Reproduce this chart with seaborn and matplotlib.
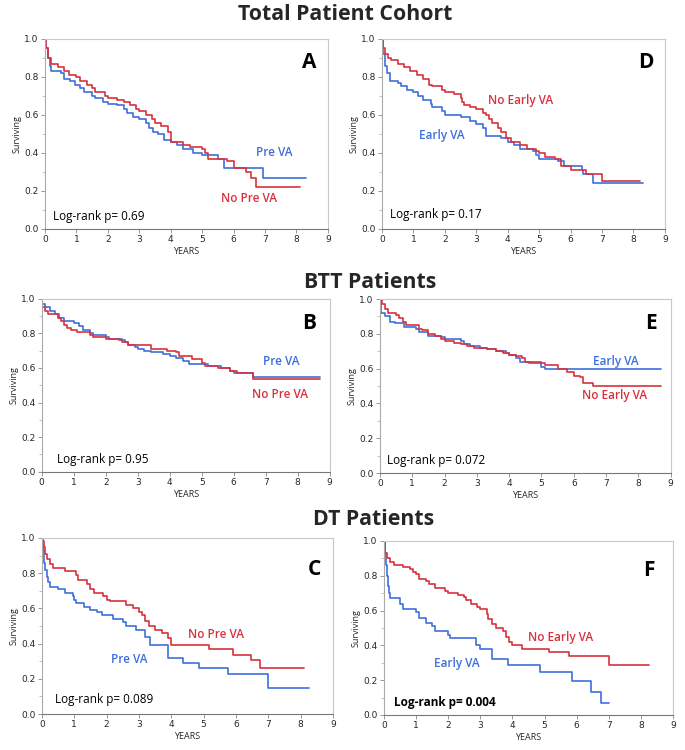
import numpy as np
import pandas as pd
import seaborn as sns
import matplotlib
matplotlib.use("Agg")
import matplotlib.pyplot as plt
from matplotlib.ticker import MultipleLocator

sns.set_style("white")
plt.rcParams['font.family'] = ['Open Sans', 'DejaVu Sans']

RED = "#d8323d"
BLUE = "#3d6fdc"

# === Kaplan-Meier step data (time in years, surviving fraction) ===
# A: total cohort, pre VA vs no pre VA
a_pre_t = [0, 0.03, 0.08, 0.15, 0.2, 0.5, 0.6, 0.8, 0.95, 1.1, 1.25, 1.5, 1.6, 1.85, 2.0, 2.3, 2.5, 2.6, 2.8, 3.0,
           3.2, 3.3, 3.45, 3.6, 3.8, 4.0, 4.2, 4.4, 4.7, 5.0, 5.5, 5.7, 6.95, 8.3]
a_pre_s = [1.0, 0.95, 0.9, 0.86, 0.83, 0.82, 0.79, 0.78, 0.76, 0.74, 0.72, 0.70, 0.69, 0.67, 0.66, 0.65, 0.63, 0.61,
           0.59, 0.58, 0.56, 0.53, 0.51, 0.50, 0.47, 0.46, 0.44, 0.42, 0.40, 0.39, 0.37, 0.32, 0.27, 0.27]
a_nopre_t = [0, 0.03, 0.1, 0.2, 0.4, 0.6, 0.75, 1.0, 1.1, 1.35, 1.5, 1.6, 1.9, 2.0, 2.3, 2.5, 2.7, 2.9, 3.0, 3.2, 3.4,
             3.5, 3.7, 3.9, 4.0, 4.4, 4.6, 5.0, 5.1, 5.2, 5.8, 6.0, 6.4, 6.55, 6.7, 8.1]
a_nopre_s = [1.0, 0.95, 0.90, 0.87, 0.85, 0.83, 0.81, 0.80, 0.78, 0.76, 0.74, 0.72, 0.70, 0.69, 0.68, 0.67, 0.65, 0.63,
             0.62, 0.60, 0.58, 0.56, 0.54, 0.51, 0.46, 0.44, 0.43, 0.42, 0.40, 0.37, 0.36, 0.32, 0.30, 0.27, 0.22, 0.22]

# D: total cohort, early VA vs no early VA
d_early_t = [0, 0.03, 0.1, 0.15, 0.25, 0.5, 0.6, 0.8, 1.0, 1.15, 1.3, 1.55, 1.6, 1.9, 2.0, 2.5, 2.8, 3.0, 3.2, 3.3,
             3.8, 4.0, 4.2, 4.4, 4.8, 4.9, 5.0, 5.6, 5.8, 6.35, 6.4, 6.7, 8.3]
d_early_s = [1.0, 0.92, 0.86, 0.82, 0.78, 0.77, 0.75, 0.73, 0.72, 0.70, 0.68, 0.66, 0.64, 0.62, 0.60, 0.59, 0.57, 0.55,
             0.53, 0.49, 0.48, 0.46, 0.44, 0.42, 0.41, 0.39, 0.37, 0.36, 0.33, 0.31, 0.29, 0.24, 0.24]
d_noearly_t = [0, 0.03, 0.1, 0.2, 0.3, 0.5, 0.7, 0.9, 1.1, 1.3, 1.5, 1.6, 1.9, 2.0, 2.3, 2.5, 2.55, 2.6, 2.8, 3.0, 3.2,
               3.3, 3.4, 3.5, 3.7, 3.8, 3.95, 4.1, 4.4, 4.6, 4.9, 5.0, 5.2, 5.5, 5.7, 6.0, 6.5, 7.0, 8.2]
d_noearly_s = [1.0, 0.95, 0.92, 0.90, 0.89, 0.87, 0.85, 0.83, 0.81, 0.79, 0.76, 0.75, 0.73, 0.72, 0.71, 0.69, 0.67,
               0.65, 0.64, 0.63, 0.61, 0.60, 0.58, 0.56, 0.53, 0.51, 0.48, 0.46, 0.44, 0.42, 0.41, 0.40, 0.38, 0.37,
               0.33, 0.31, 0.29, 0.25, 0.25]

# B: BTT, pre VA vs no pre VA
b_pre_t = [0, 0.1, 0.25, 0.4, 0.55, 0.7, 1.0, 1.15, 1.3, 1.5, 1.6, 2.0, 2.1, 2.5, 2.6, 2.7, 2.9, 3.0, 3.2, 3.4, 3.8,
           4.0, 4.2, 4.4, 4.6, 5.2, 5.6, 5.9, 6.0, 6.6, 8.7]
b_pre_s = [0.97, 0.95, 0.93, 0.91, 0.89, 0.87, 0.86, 0.84, 0.82, 0.80, 0.79, 0.78, 0.77, 0.76, 0.75, 0.73, 0.72, 0.71,
           0.70, 0.69, 0.68, 0.67, 0.66, 0.64, 0.62, 0.61, 0.60, 0.58, 0.57, 0.55, 0.55]
b_nopre_t = [0, 0.1, 0.2, 0.5, 0.6, 0.7, 0.8, 0.9, 1.1, 1.5, 1.6, 2.0, 2.4, 2.5, 2.7, 3.4, 3.9, 4.2, 4.3, 4.7, 5.0,
             5.1, 5.5, 5.9, 6.1, 6.6, 8.7]
b_nopre_s = [0.95, 0.93, 0.91, 0.89, 0.87, 0.85, 0.83, 0.82, 0.81, 0.79, 0.78, 0.77, 0.76, 0.75, 0.73, 0.71, 0.70,
             0.69, 0.67, 0.65, 0.63, 0.61, 0.60, 0.58, 0.57, 0.535, 0.535]

# E: BTT, early VA vs no early VA
e_early_t = [0, 0.02, 0.15, 0.3, 0.45, 0.75, 1.1, 1.2, 1.5, 1.9, 2.0, 2.5, 2.6, 2.8, 3.1, 3.3, 3.6, 3.9, 4.0, 4.2,
             4.35, 4.6, 5.0, 5.1, 8.7]
e_early_s = [1.0, 0.92, 0.90, 0.87, 0.86, 0.84, 0.83, 0.81, 0.79, 0.78, 0.77, 0.76, 0.74, 0.73, 0.72, 0.71, 0.70,
             0.69, 0.68, 0.66, 0.64, 0.63, 0.61, 0.60, 0.60]
e_noearly_t = [0, 0.05, 0.15, 0.25, 0.5, 0.6, 0.7, 0.8, 1.2, 1.3, 1.5, 1.7, 1.9, 2.0, 2.3, 2.5, 2.7, 2.9, 3.3, 3.6,
               3.8, 4.0, 4.2, 4.4, 4.5, 5.0, 5.1, 5.5, 5.8, 6.0, 6.2, 6.3, 6.6, 8.7]
e_noearly_s = [1.0, 0.97, 0.94, 0.92, 0.91, 0.89, 0.87, 0.85, 0.83, 0.82, 0.80, 0.79, 0.77, 0.76, 0.75, 0.74, 0.73,
               0.72, 0.71, 0.70, 0.69, 0.68, 0.67, 0.66, 0.64, 0.63, 0.62, 0.60, 0.58, 0.56, 0.55, 0.52, 0.50, 0.50]

# C: DT, pre VA vs no pre VA
c_pre_t = [0, 0.02, 0.05, 0.1, 0.15, 0.2, 0.25, 0.5, 0.7, 0.95, 1.0, 1.05, 1.3, 1.5, 1.7, 1.85, 2.2, 2.5, 2.6, 2.9,
           3.2, 3.35, 3.9, 4.35, 4.85, 5.75, 7.0, 8.25]
c_pre_s = [1.0, 0.93, 0.86, 0.82, 0.78, 0.75, 0.72, 0.71, 0.69, 0.67, 0.65, 0.63, 0.61, 0.59, 0.58, 0.56, 0.54, 0.52,
           0.50, 0.48, 0.44, 0.39, 0.32, 0.29, 0.26, 0.225, 0.15, 0.15]
c_nopre_t = [0, 0.05, 0.1, 0.15, 0.25, 0.35, 0.7, 1.05, 1.1, 1.4, 1.5, 1.6, 1.9, 2.0, 2.1, 2.6, 2.8, 3.0, 3.1, 3.2,
             3.3, 3.5, 3.7, 3.9, 4.0, 5.15, 5.9, 6.45, 6.75, 8.1]
c_nopre_s = [0.98, 0.95, 0.91, 0.88, 0.85, 0.83, 0.81, 0.79, 0.76, 0.74, 0.71, 0.69, 0.67, 0.65, 0.64, 0.62, 0.60,
             0.58, 0.56, 0.53, 0.50, 0.48, 0.46, 0.43, 0.39, 0.37, 0.335, 0.305, 0.26, 0.26]

# F: DT, early VA vs no early VA
f_early_t = [0, 0.02, 0.05, 0.08, 0.12, 0.15, 0.2, 0.5, 0.6, 1.0, 1.1, 1.3, 1.5, 1.6, 2.0, 2.05, 2.85, 2.98, 3.35,
             3.85, 4.85, 5.85, 6.45, 6.75, 7.0]
f_early_s = [1.0, 0.93, 0.86, 0.80, 0.74, 0.70, 0.67, 0.64, 0.61, 0.59, 0.56, 0.53, 0.51, 0.48, 0.46, 0.44, 0.40,
             0.38, 0.32, 0.29, 0.245, 0.195, 0.13, 0.067, 0.067]
f_noearly_t = [0, 0.02, 0.1, 0.2, 0.3, 0.6, 0.8, 0.9, 1.0, 1.1, 1.3, 1.4, 1.6, 1.9, 2.0, 2.3, 2.5, 2.55, 2.7, 2.9,
               3.0, 3.2, 3.25, 3.35, 3.5, 3.7, 3.8, 3.9, 4.0, 4.3, 5.15, 5.75, 7.0, 8.25]
f_noearly_s = [1.0, 0.93, 0.90, 0.88, 0.86, 0.85, 0.84, 0.82, 0.81, 0.78, 0.77, 0.75, 0.73, 0.71, 0.70, 0.69, 0.68,
               0.66, 0.64, 0.62, 0.61, 0.58, 0.55, 0.52, 0.50, 0.48, 0.45, 0.42, 0.40, 0.38, 0.36, 0.34, 0.29, 0.29]

section_titles = ["Total Patient Cohort", "BTT Patients", "DT Patients"]

panels = [
    dict(letter="A", blue=(a_pre_t, a_pre_s), red=(a_nopre_t, a_nopre_s), blue_lab="Pre VA", red_lab="No Pre VA",
         p="Log-rank p= 0.69", pbold=False, rect=[0.0657, 0.6947, 0.413, 0.2533],
         blue_xy=(6.72, 0.40), red_xy=(5.6, 0.16), p_xy=(0.24, 0.067), let_xy=(8.63, 0.875)),
    dict(letter="D", blue=(d_early_t, d_early_s), red=(d_noearly_t, d_noearly_s), blue_lab="Early VA",
         red_lab="No Early VA", p="Log-rank p= 0.17", pbold=False, rect=[0.5577, 0.6947, 0.413, 0.2533],
         blue_xy=(1.17, 0.49), red_xy=(3.38, 0.675), p_xy=(0.24, 0.075), let_xy=(8.63, 0.875)),
    dict(letter="B", blue=(b_pre_t, b_pre_s), red=(b_nopre_t, b_nopre_s), blue_lab="Pre VA", red_lab="No Pre VA",
         p="Log-rank p= 0.95", pbold=False, rect=[0.0609, 0.371, 0.4204, 0.2307],
         blue_xy=(6.92, 0.64), red_xy=(6.58, 0.447), p_xy=(0.49, 0.071), let_xy=(8.58, 0.857)),
    dict(letter="E", blue=(e_early_t, e_early_s), red=(e_noearly_t, e_noearly_s), blue_lab="Early VA",
         red_lab="No Early VA", p="Log-rank p= 0.072", pbold=False, rect=[0.5547, 0.3693, 0.4244, 0.232],
         blue_xy=(6.58, 0.642), red_xy=(6.26, 0.444), p_xy=(0.21, 0.071), let_xy=(8.57, 0.862)),
    dict(letter="C", blue=(c_pre_t, c_pre_s), red=(c_nopre_t, c_nopre_s), blue_lab="Pre VA", red_lab="No Pre VA",
         p="Log-rank p= 0.089", pbold=False, rect=[0.0613, 0.048, 0.4248, 0.2347],
         blue_xy=(2.14, 0.307), red_xy=(4.52, 0.453), p_xy=(0.39, 0.083), let_xy=(8.64, 0.82)),
    dict(letter="F", blue=(f_early_t, f_early_s), red=(f_noearly_t, f_noearly_s), blue_lab="Early VA",
         red_lab="No Early VA", p="Log-rank p= 0.004", pbold=True, rect=[0.5606, 0.0467, 0.4219, 0.232],
         blue_xy=(1.56, 0.296), red_xy=(4.49, 0.444), p_xy=(0.31, 0.071), let_xy=(8.43, 0.83)),
]

fig = plt.figure(figsize=(6.85, 7.5), dpi=100)

for pan in panels:
    ax = fig.add_axes(pan["rect"])
    bt, bs = pan["blue"]
    rt, rs = pan["red"]
    df = pd.concat([
        pd.DataFrame({"time": bt, "surv": bs, "group": "blue"}),
        pd.DataFrame({"time": rt, "surv": rs, "group": "red"}),
    ], ignore_index=True)
    sns.lineplot(data=df, x="time", y="surv", hue="group", palette={"blue": BLUE, "red": RED},
                 estimator=None, sort=False, drawstyle="steps-post", linewidth=1.2, legend=False, ax=ax)

    ax.set_xlim(0, 9)
    ax.set_ylim(0, 1)
    ax.xaxis.set_major_locator(MultipleLocator(1))
    ax.yaxis.set_major_locator(MultipleLocator(0.2))
    ax.yaxis.set_minor_locator(MultipleLocator(0.1))
    ax.yaxis.set_major_formatter(matplotlib.ticker.FormatStrFormatter("%.1f"))
    ax.tick_params(axis="both", which="major", direction="out", length=3, width=0.6, color="#888888",
                   labelsize=6.5, pad=1.5, bottom=True, left=True)
    ax.tick_params(axis="y", which="minor", direction="out", length=2, width=0.5, color="#aaaaaa", left=True)
    for lab in ax.get_xticklabels() + ax.get_yticklabels():
        lab.set_family(["DejaVu Sans"])
    for side in ["top", "right"]:
        ax.spines[side].set_color("#c8c8c8")
        ax.spines[side].set_linewidth(0.8)
    ax.spines["left"].set_color("#aaaaaa")
    ax.spines["bottom"].set_color("#777777")
    for side in ["left", "bottom"]:
        ax.spines[side].set_linewidth(0.8)

    ax.set_xlabel("YEARS", fontsize=6.5, labelpad=2)
    ax.set_ylabel("Surviving", fontsize=6.5, labelpad=2)

    ax.text(*pan["blue_xy"], pan["blue_lab"], color=BLUE, fontsize=8.5, fontweight="semibold", va="center")
    ax.text(*pan["red_xy"], pan["red_lab"], color=RED, fontsize=8.5, fontweight="semibold", va="center")
    ax.text(*pan["p_xy"], pan["p"], color="black", fontsize=8.5,
            fontweight="bold" if pan["pbold"] else "normal", va="center")
    ax.text(*pan["let_xy"], pan["letter"], color="black", fontsize=15, fontweight="bold", ha="right", va="center")

fig.text(0.504, 0.980, section_titles[0], ha="center", va="center", fontsize=15.3, fontweight="bold")
fig.text(0.541, 0.623, section_titles[1], ha="center", va="center", fontsize=15.3, fontweight="bold")
fig.text(0.546, 0.307, section_titles[2], ha="center", va="center", fontsize=15.3, fontweight="bold")

fig.savefig("out.png", dpi=100)
